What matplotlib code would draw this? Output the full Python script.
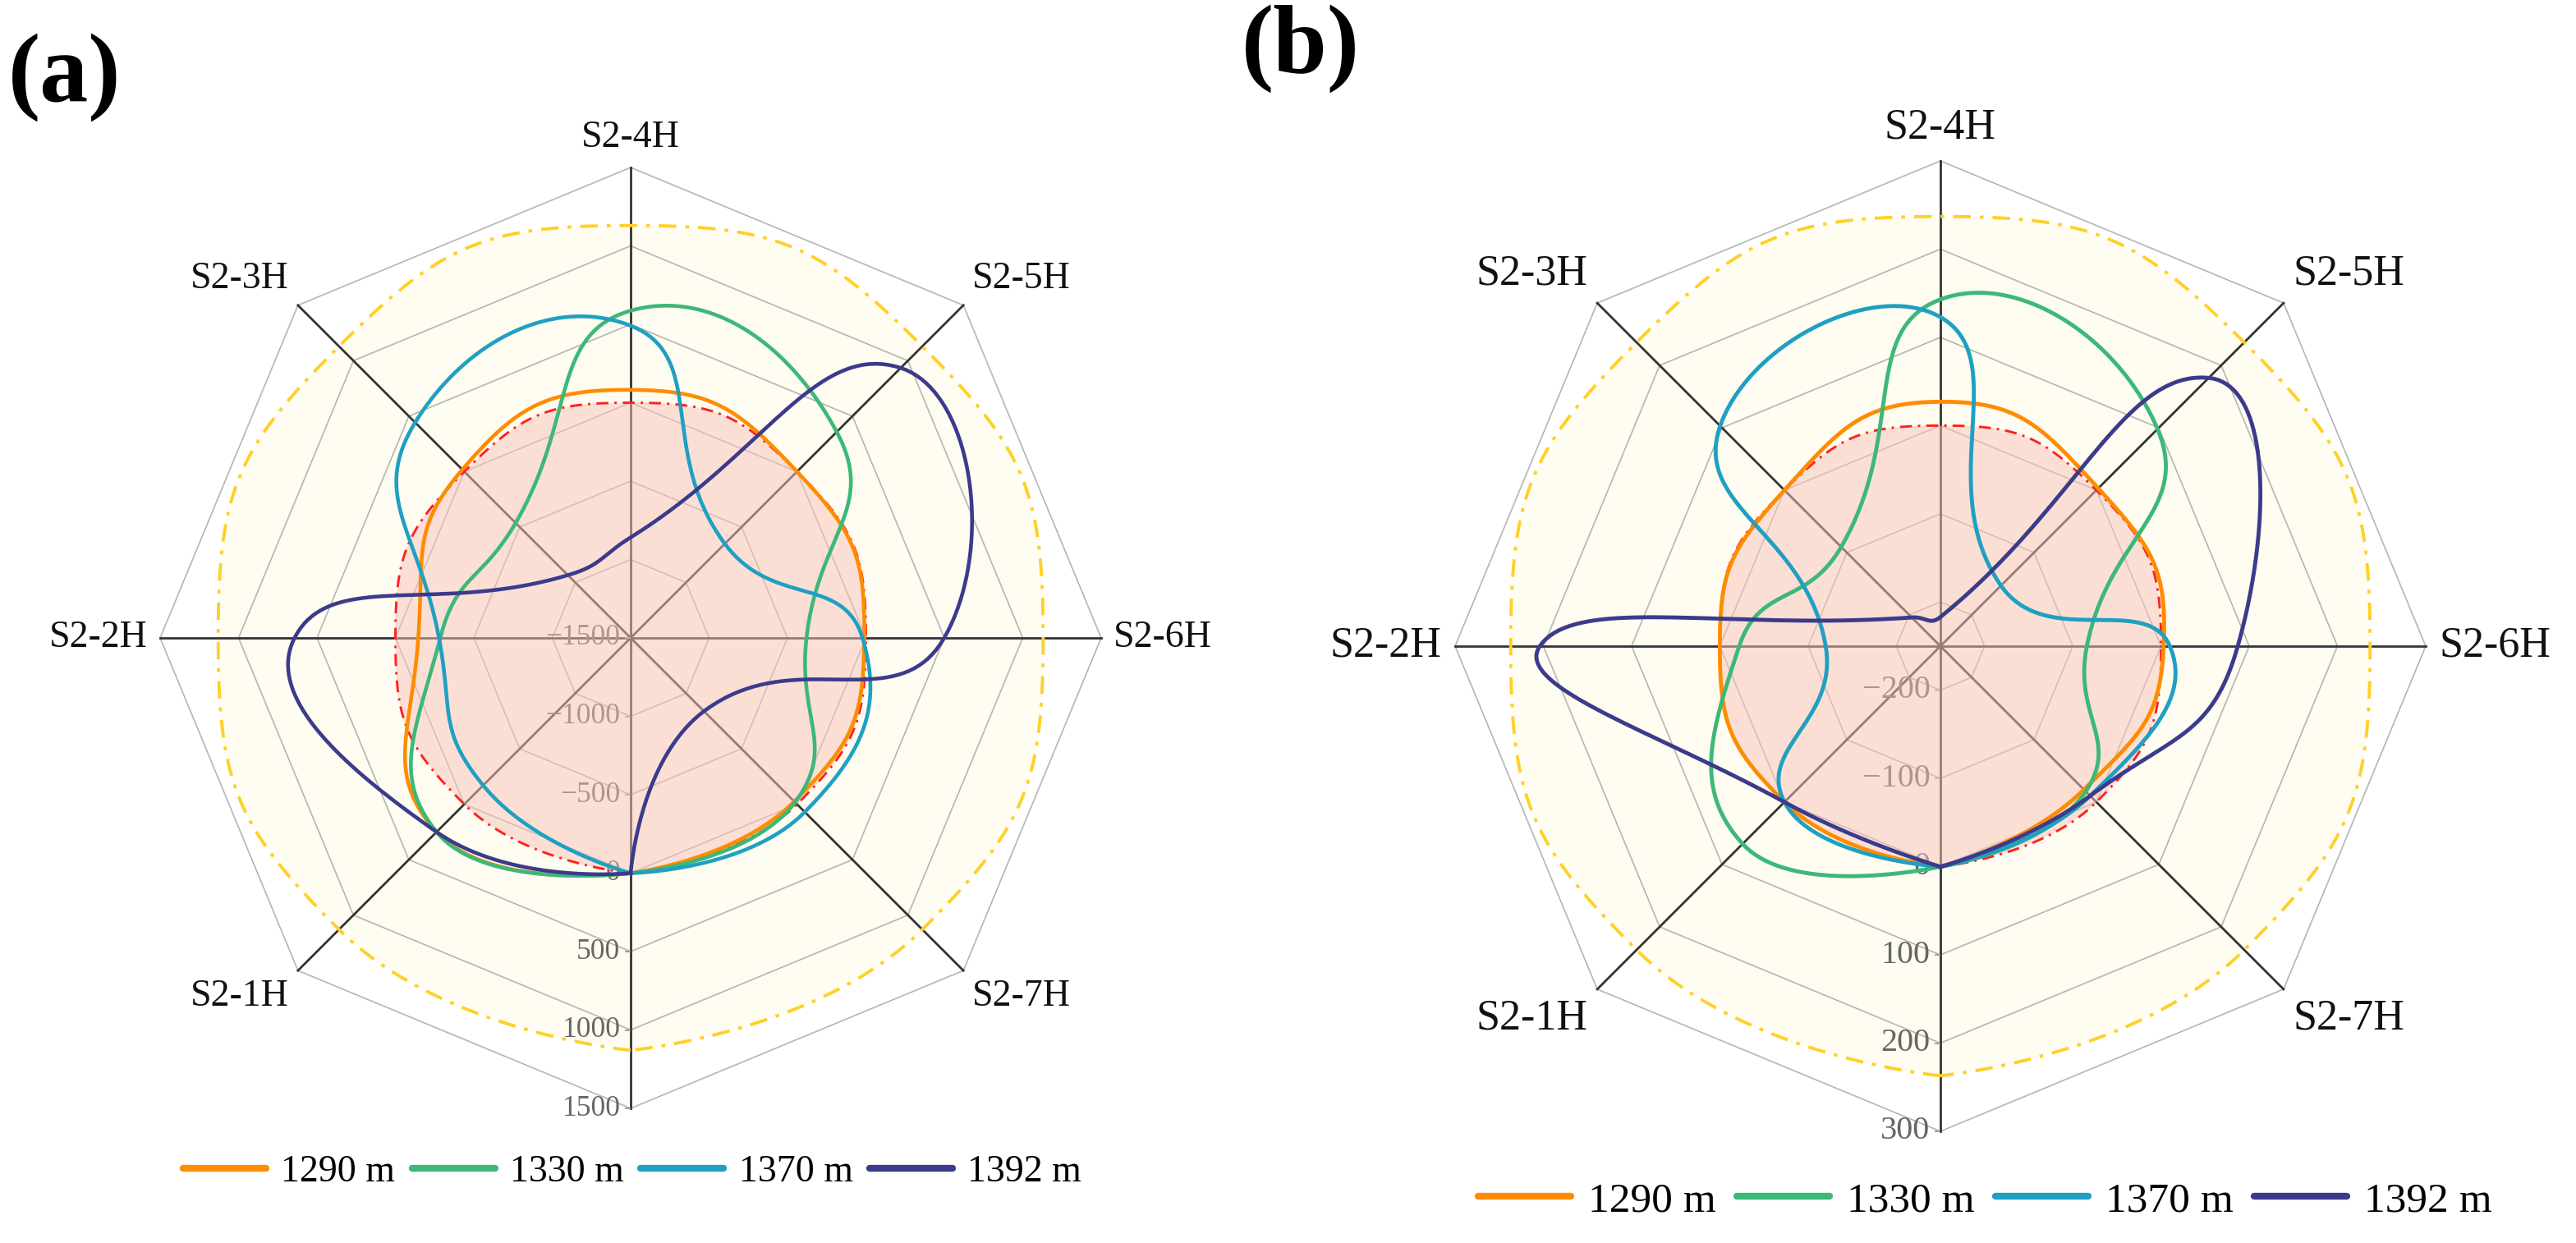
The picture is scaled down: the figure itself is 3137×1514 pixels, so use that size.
import numpy as np
import matplotlib
matplotlib.use('Agg')
import matplotlib.pyplot as plt
from matplotlib.lines import Line2D

plt.rcParams['font.family'] = ['Liberation Serif', 'DejaVu Serif']

# spokes, starting at the bottom (unnamed) and going clockwise
spoke_names = ['', 'S2-1H', 'S2-2H', 'S2-3H', 'S2-4H', 'S2-5H', 'S2-6H', 'S2-7H']
series_names = ['1290 m', '1330 m', '1370 m', '1392 m']
series_colors = ['#ff8c00', '#3cb878', '#1fa0c2', '#3b3b8c']

# panel (a)
a_ticks = [-1500, -1000, -500, 0, 500, 1000, 1500]
a_1290 = [0, 250, -146, 18, 82, 0, -10, -25]
a_1330 = [0, 250, -286, -463, 587, 358, -379, -18]
a_1370 = [0, -170, -278, 443, 491, -651, -22, 70]
a_1392 = [0, 250, 643, -934, -859, 935, 499, -839]
a_low = [0, 0, 0, 0, 0, 0, 0, 0]
a_high = [1130, 1130, 1130, 1130, 1130, 1130, 1130, 1130]

# panel (b)
b_ticks = [-200, -100, 0, 100, 200, 300]
b_1290 = [0, 0, 0, 0, 27, 3, 3, -20]
b_1330 = [0, 67, -22, -91, 143, 98, -84, -17]
b_1370 = [0, 0, -120, 103, 123, -153, 10, -10]
b_1392 = [0, 0, 204, -204, -217, 180, 87, -10]
b_low = [0, 0, 0, 0, 0, 0, 0, 0]
b_high = [237, 237, 237, 237, 237, 237, 237, 237]


def smooth_curve(values, vmin, smooth=0.5, n=40):
    # bezier smoothing like echarts' radar, first point repeated to close
    vals = np.array(list(values) + [values[0]], dtype=float)
    ang = np.deg2rad(np.arange(len(vals)) * 45 + 180)
    u = vals - vmin
    pts = np.column_stack([u * np.sin(ang), u * np.cos(ang)])
    cps = [pts[0]]
    for i in range(1, len(pts) - 1):
        prev, cur, nxt = pts[i - 1], pts[i], pts[i + 1]
        v = (nxt - prev) * smooth
        d0 = np.hypot(*(cur - prev))
        d1 = np.hypot(*(cur - nxt))
        s = d0 + d1
        if s:
            d0, d1 = d0 / s, d1 / s
        cps.append(cur - v * d0)
        cps.append(cur + v * d1)
    cps.append(pts[-1])
    t = np.linspace(0, 1, n)[:, None]
    out = []
    for i in range(len(pts) - 1):
        p0, c0, c1, p1 = pts[i], cps[2 * i], cps[2 * i + 1], pts[i + 1]
        seg = (1 - t) ** 3 * p0 + 3 * (1 - t) ** 2 * t * c0 + 3 * (1 - t) * t ** 2 * c1 + t ** 3 * p1
        out.append(seg if i == 0 else seg[1:])
    xy = np.vstack(out)
    theta = np.arctan2(xy[:, 0], xy[:, 1])
    r = np.hypot(xy[:, 0], xy[:, 1]) + vmin
    return theta, r


def draw_panel(rect, vmin, vmax, ticks, series, low, high, fs_label, fs_tick, lw, gap):
    ax = fig.add_axes(rect, projection='polar')
    ax.set_theta_zero_location('N')
    ax.set_theta_direction(-1)
    ax.set_ylim(vmin, vmax)
    ax.grid(False)
    ax.set_xticks([])
    ax.set_yticks([])
    ax.spines['polar'].set_visible(False)
    ax.patch.set_alpha(0)

    ang = np.deg2rad(np.arange(8) * 45 + 180)
    ring = np.append(ang, ang[0])

    # light yellow area inside the upper reference line
    th, rh = smooth_curve(high, vmin)
    ax.fill(th, rh, color='#ffd21e', alpha=0.06, lw=0, zorder=1)

    for t in ticks:
        if t > vmin:
            ax.plot(ring, [t] * 9, color='#b5b5b5', lw=1.2, zorder=2, clip_on=False)
    for a in ang:
        ax.plot([a, a], [vmin, vmax], color='#333333', lw=2.0, zorder=2, clip_on=False)
    ax.plot([np.pi] * len(ticks), ticks, ls='none', marker=0, ms=5, mew=1.3,
            color='#9a9a9a', zorder=2, clip_on=False)

    for t in ticks:
        ax.annotate(str(t).replace('-', '\u2212'), (np.pi, t), xytext=(-9, 0),
                    textcoords='offset points', ha='right', va='center',
                    fontsize=fs_tick, color='#666666', zorder=3, annotation_clip=False)

    for a, name in zip(ang, spoke_names):
        if not name:
            continue
        s, c = np.sin(a), np.cos(a)
        ha = 'center' if abs(s) < 0.1 else ('left' if s > 0 else 'right')
        va = 'center' if abs(c) < 0.1 else ('bottom' if c > 0 else 'top')
        ax.annotate(name, (a, vmax), xytext=(gap * s, gap * c), textcoords='offset points',
                    ha=ha, va=va, fontsize=fs_label, color='#111111', annotation_clip=False)

    tl, rl = smooth_curve(low, vmin)
    ax.fill(tl, rl, color='#f9c4ba', alpha=0.5, lw=0, zorder=4)
    ax.plot(tl, rl, color='#ff2020', lw=2.1, ls=(0, (5, 2.5, 1, 2.5)), zorder=5)
    ax.plot(th, rh, color='#ffd028', lw=2.8, ls=(0, (5.5, 2.8, 1.2, 2.8)), zorder=5, clip_on=False)

    for vals, col in zip(series, series_colors):
        ts, rs = smooth_curve(vals, vmin)
        ax.plot(ts, rs, color=col, lw=lw, zorder=6, solid_joinstyle='round', clip_on=False)
    return ax


fig = plt.figure(figsize=(31.37, 15.14), dpi=100)

draw_panel([0.06216, 0.10832, 0.36532, 0.75694], -1500, 1500, a_ticks,
           [a_1290, a_1330, a_1370, a_1392], a_low, a_high,
           fs_label=33, fs_tick=25.5, lw=3.3, gap=11)
draw_panel([0.56487, 0.08983, 0.37679, 0.78071], -250, 300, b_ticks,
           [b_1290, b_1330, b_1370, b_1392], b_low, b_high,
           fs_label=37.5, fs_tick=29, lw=3.5, gap=12)

handles = [Line2D([], [], color=c, lw=6, solid_capstyle='round') for c in series_colors]
fig.legend(handles, series_names, loc='center', bbox_to_anchor=(0.2455, 0.0568), ncol=4,
           frameon=False, fontsize=33, handlelength=2.2, handletextpad=0.4, columnspacing=0.45)
fig.legend(handles, series_names, loc='center', bbox_to_anchor=(0.7705, 0.0337), ncol=4,
           frameon=False, fontsize=37, handlelength=2.2, handletextpad=0.4, columnspacing=0.5)

fig.text(10 / 3137, 1 - 40 / 1514, '(a)', fontsize=85, fontweight='bold', ha='left', va='top')
fig.text(1512 / 3137, 1 - 5 / 1514, '(b)', fontsize=85, fontweight='bold', ha='left', va='top')

fig.savefig('out.png', dpi=100)
